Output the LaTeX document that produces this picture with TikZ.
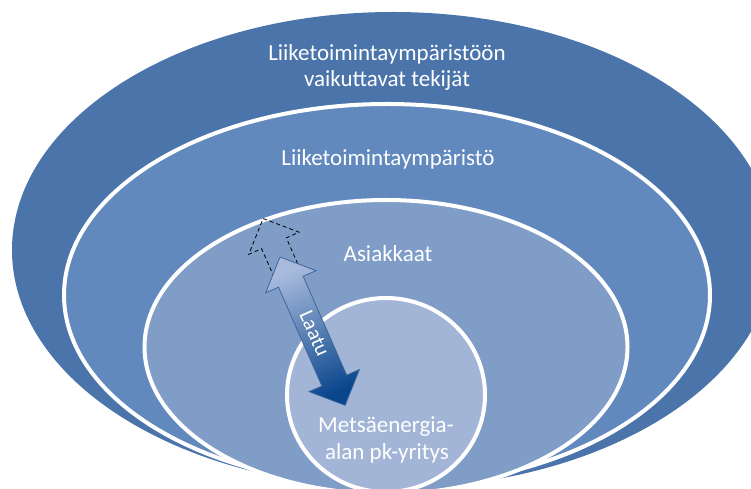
\documentclass[tikz,border=0pt]{standalone}
\usepackage{fontspec}
\setmainfont{Carlito}
\definecolor{cOuter}{HTML}{4A74AA}
\definecolor{cSecond}{HTML}{6189BE}
\definecolor{cThird}{HTML}{809DC8}
\definecolor{cInner}{HTML}{A2B5D7}
\definecolor{cArrowTop}{HTML}{A9BBDD}
\definecolor{cArrowBot}{HTML}{0A468C}
\definecolor{cArrowEdge}{HTML}{3F6699}
\begin{document}
\begin{tikzpicture}[x=1pt,y=1pt,
  ring/.style={draw=white, line width=4},
  lbl/.style={text=white, font=\fontsize{23}{26}\selectfont, align=center, inner sep=0},
  ghost/.style={draw=black, line width=0.8, dash pattern=on 4 off 3}]
\useasboundingbox (0,0) rectangle (751,489);
\clip (0,0) rectangle (751,489);
\fill[cOuter] (393,239) ellipse [x radius=381, y radius=238];
\fill[cSecond, ring] (387,194) ellipse [x radius=323, y radius=191];
\fill[cThird, ring] (386,142) ellipse [x radius=241.5, y radius=147];
\fill[cInner, ring] (386,94) ellipse [x radius=99, y radius=97];
% labels
\node[lbl, anchor=base] (l1) at (387,428) {Liiketoimintaympäristöön};
\node[lbl, anchor=base] (l2) at (387,402) {vaikuttavat tekijät};
\node[lbl, anchor=base] (l3) at (388,323) {Liiketoimintaympäristö};
\node[lbl, anchor=base] (l4) at (388,227) {Asiakkaat};
\node[lbl, anchor=base] (l5) at (386,56) {Metsäenergia-};
\node[lbl, anchor=base] (l6) at (387,29) {alan pk-yritys};
% arrow
\coordinate (qa) at (280,232);
\begin{scope}[shift={(qa)}, rotate=-66.3]
  \draw[ghost] (13.5,13.5) -- (-15,13.5) -- (-15,27.5) -- (-42,0) -- (-15,-27.5) -- (-15,-13.5) -- (13.5,-13.5);
  \shade[top color=cArrowTop, bottom color=cArrowBot, shading angle=24, draw=cArrowEdge, line width=0.8]
    (0,0) -- (27,27.5) -- (27,13.5) -- (135,13.5) -- (135,27.5) -- (162,0)
    -- (135,-27.5) -- (135,-13.5) -- (27,-13.5) -- (27,-27.5) -- cycle;
  \coordinate (qb) at (162,0);
  \node[text=white, font=\fontsize{21}{24}\selectfont, rotate=-66.3, inner sep=0] (laatu) at (84,1) {Laatu};
\end{scope}
\end{tikzpicture}
\end{document}
